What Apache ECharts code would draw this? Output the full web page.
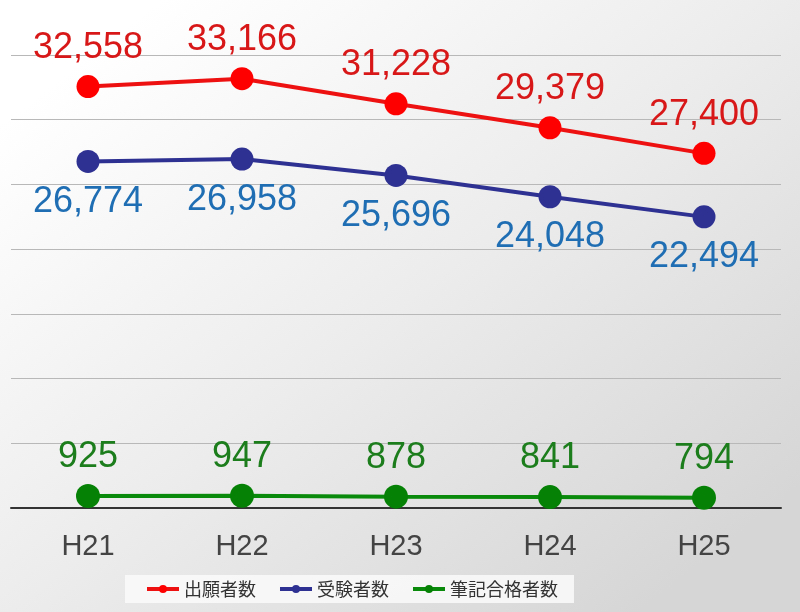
<!DOCTYPE html>
<html>
<head>
<meta charset="utf-8">
<script src="https://cdn.jsdelivr.net/npm/echarts@6/dist/echarts.min.js"></script>
<style>
html, body { margin: 0; padding: 0; }
#chart { width: 800px; height: 612px; }
</style>
</head>
<body>
<div id="chart"></div>
<script>
// 年度
const years = ['H21', 'H22', 'H23', 'H24', 'H25'];
// 出願者数
const applicants = [32558, 33166, 31228, 29379, 27400];
// 受験者数
const examinees = [26774, 26958, 25696, 24048, 22494];
// 筆記合格者数
const passed = [925, 947, 878, 841, 794];

const seriesNames = ['出願者数', '受験者数', '筆記合格者数'];

const chart = echarts.init(document.getElementById('chart'));

const numFmt = p => p.value.toLocaleString('en-US');

const option = {
    backgroundColor: {
        type: 'linear',
        x: 0.2, y: 0, x2: 0.8, y2: 1,
        colorStops: [
            { offset: 0, color: '#ffffff' },
            { offset: 0.5, color: '#ececec' },
            { offset: 1, color: '#d6d6d6' }
        ]
    },
    textStyle: {
        fontFamily: '"Liberation Sans", Arial, sans-serif'
    },
    grid: {
        left: 11,
        right: 19,
        top: 55,
        bottom: 104
    },
    legend: {
        left: 125,
        top: 575,
        padding: [5, 16, 5, 20],
        itemGap: 22,
        itemWidth: 32,
        itemHeight: 10,
        lineStyle: { width: 4 },
        backgroundColor: 'rgba(250,250,250,0.85)',
        textStyle: {
            fontSize: 18,
            color: '#333',
            fontFamily: '"Noto Sans CJK JP", sans-serif'
        },
        data: seriesNames
    },
    xAxis: {
        type: 'category',
        boundaryGap: true,
        data: years,
        axisTick: { show: false },
        axisLine: {
            lineStyle: { color: '#333', width: 2 }
        },
        axisLabel: {
            margin: 24,
            fontSize: 29,
            color: '#444'
        }
    },
    yAxis: {
        type: 'value',
        min: 0,
        max: 35000,
        interval: 5000,
        axisLabel: { show: false },
        axisLine: { show: false },
        axisTick: { show: false },
        splitLine: {
            lineStyle: { color: '#b8b8b8', width: 1.2 }
        }
    },
    series: [
        {
            name: seriesNames[0],
            type: 'line',
            data: applicants,
            symbol: 'circle',
            symbolSize: 23,
            itemStyle: { color: '#ff0000' },
            lineStyle: { color: '#ee1111', width: 4 },
            label: {
                show: true,
                position: 'top',
                distance: 9,
                fontSize: 36,
                color: '#d81818',
                formatter: numFmt
            },
            z: 3
        },
        {
            name: seriesNames[1],
            type: 'line',
            data: examinees,
            symbol: 'circle',
            symbolSize: 23,
            itemStyle: { color: '#2e3192' },
            lineStyle: { color: '#2e3192', width: 4 },
            label: {
                show: true,
                position: 'bottom',
                distance: 11,
                fontSize: 36,
                color: '#1f6eb4',
                formatter: numFmt
            },
            z: 3
        },
        {
            name: seriesNames[2],
            type: 'line',
            data: passed,
            symbol: 'circle',
            symbolSize: 24,
            itemStyle: { color: '#058205' },
            lineStyle: { color: '#0a8a0a', width: 4 },
            label: {
                show: true,
                position: 'top',
                distance: 9,
                fontSize: 36,
                color: '#1c7d1c',
                formatter: numFmt
            },
            z: 3
        }
    ]
};

chart.setOption(option);
</script>
</body>
</html>
